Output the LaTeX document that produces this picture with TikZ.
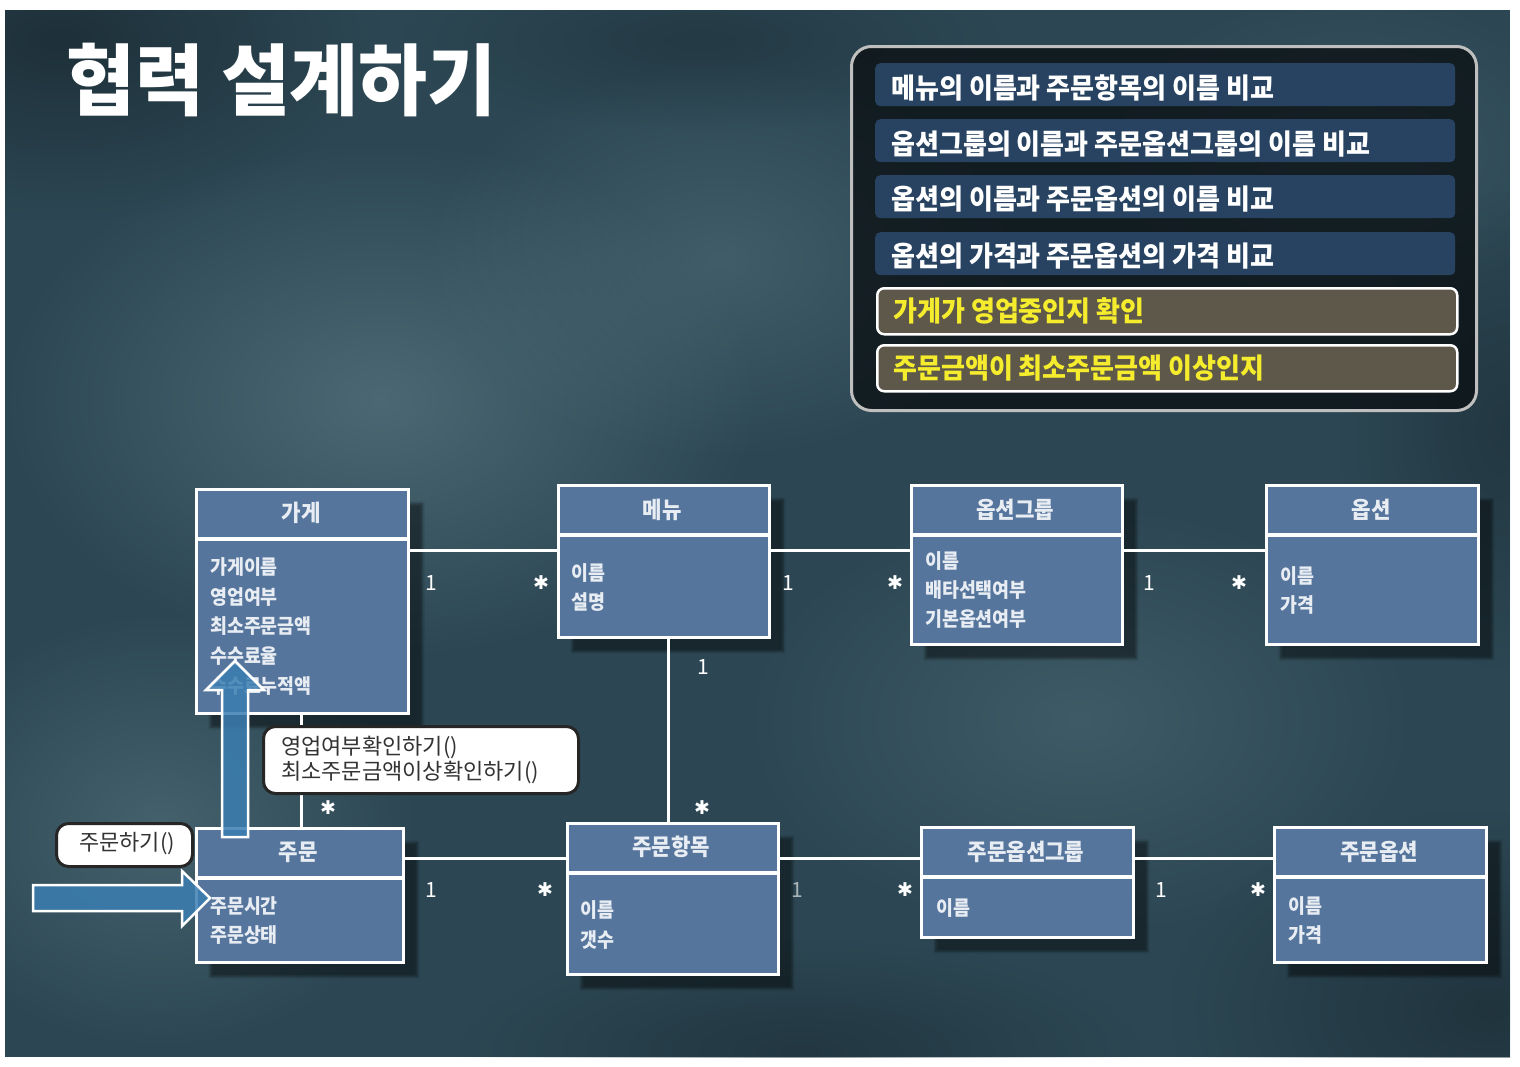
\documentclass[tikz,border=0pt]{standalone}
\usepackage{fontspec}
\setmainfont{Noto Sans CJK KR}
\newfontfamily\titlefont{Noto Sans CJK KR}[FakeStretch=0.96]
\newfontfamily\panelfont{Noto Sans CJK KR}[FakeStretch=0.93]
\newfontfamily\boxfont{Noto Sans CJK KR}[FakeStretch=0.92]
\newfontfamily\symfont{DejaVu Sans}
\usetikzlibrary{shadows.blur, fadings}
\definecolor{bgc}{HTML}{2C4753}
\definecolor{bgdark}{HTML}{18272F}
\definecolor{bglight}{HTML}{55737E}
\definecolor{boxblue}{HTML}{56759C}
\definecolor{rowblue}{HTML}{2A4868}
\definecolor{rowolive}{HTML}{5D5849}
\definecolor{yel}{HTML}{F4EC2C}
\definecolor{arrowblue}{HTML}{3B7EB2}
\definecolor{boxtext}{HTML}{E8EDF3}
\definecolor{calltext}{HTML}{333333}
\tikzfading[name=softfade, inner color=transparent!0, outer color=transparent!100]
\tikzset{
  cls/.style={rectangle, draw=white, line width=3pt, fill=boxblue, inner sep=0pt,
    blur shadow={shadow xshift=14pt, shadow yshift=-14pt, shadow opacity=45, shadow blur steps=6}},
  sepline/.style={draw=white, line width=3.5pt},
  hdr/.style={text=boxtext, font=\boxfont\bfseries\fontsize{23}{26}\selectfont, inner sep=0pt},
  attr/.style={text=boxtext, font=\boxfont\bfseries\fontsize{20}{22}\selectfont, inner sep=0pt, anchor=west},
  conn/.style={draw=white, line width=3pt},
  mult/.style={text=white, font=\fontsize{21}{24}\selectfont, inner sep=0pt},
  star/.style={text=white, font=\symfont\fontsize{19}{22}\selectfont, inner sep=0pt},
  rowb/.style={rectangle, fill=rowblue, fill opacity=0.9, rounded corners=5pt, inner sep=0pt, anchor=north west, minimum width=580pt, minimum height=43pt},
  rowo/.style={rectangle, fill=rowolive, draw=white, line width=2.5pt, rounded corners=7pt, inner sep=0pt, anchor=north west, minimum width=580pt, minimum height=46pt},
  rowtxt/.style={text=white, font=\panelfont\bfseries\fontsize{28}{30}\selectfont, inner sep=0pt, anchor=west},
  rowytxt/.style={rowtxt, text=yel},
  callout/.style={rectangle, draw=black!85, line width=3pt, fill=white, rounded corners=12pt, inner sep=0pt, anchor=north west},
  calltxt/.style={text=calltext, font=\fontsize{22}{25}\selectfont, inner sep=0pt, anchor=west},
  blockarrow/.style={fill=arrowblue, fill opacity=0.85, draw=white, line width=2.5pt, line join=miter},
  blob/.style={path fading=softfade}
}
\begin{document}
\begin{tikzpicture}[x=1pt, y=-1pt]
\useasboundingbox (0,0) rectangle (1520,1066);
% background
\fill[white] (0,0) rectangle (1520,1066);
\begin{scope}
\clip (5,10) rectangle (1510,1057);
\fill[bgc] (5,10) rectangle (1510,1057);
\fill[bglight, blob, opacity=0.75] (380,400) ellipse[x radius=380pt, y radius=260pt];
\fill[bglight, blob, opacity=0.5] (720,260) ellipse[x radius=300pt, y radius=200pt];
\fill[bglight, blob, opacity=0.6] (160,830) ellipse[x radius=260pt, y radius=220pt];
\fill[bglight, blob, opacity=0.45] (1080,720) ellipse[x radius=340pt, y radius=220pt];
\fill[bglight, blob, opacity=0.35] (1350,150) ellipse[x radius=250pt, y radius=160pt];
\fill[bgdark, blob, opacity=0.7] (60,40) ellipse[x radius=320pt, y radius=180pt];
\fill[bgdark, blob, opacity=0.6] (1490,1010) ellipse[x radius=320pt, y radius=200pt];
\fill[bgdark, blob, opacity=0.5] (800,1050) ellipse[x radius=340pt, y radius=110pt];
\fill[bgdark, blob, opacity=0.5] (1510,430) ellipse[x radius=170pt, y radius=240pt];
\fill[bgdark, blob, opacity=0.4] (700,40) ellipse[x radius=300pt, y radius=90pt];
\end{scope}
% title
\node (title) [anchor=west, text=white, font=\titlefont\bfseries\fontsize{78}{80}\selectfont, inner sep=0pt] at (66,80) {협력 설계하기};
% panel
\node (panel) [rectangle, anchor=north west, minimum width=625pt, minimum height=364pt, fill=black!80!bgc, fill opacity=0.75, draw=white!75!black, line width=3pt, rounded corners=20pt] at (850,45) {};
\node (r1) [rowb] at (875,63) {};
\node (r2) [rowb] at (875,119) {};
\node (r3) [rowb] at (875,175) {};
\node (r4) [rowb] at (875,232) {};
\node (r5) [rowo] at (876,287) {};
\node (r6) [rowo] at (876,344) {};
\node (t1) [rowtxt] at (891,88) {메뉴의 이름과 주문항목의 이름 비교};
\node (t2) [rowtxt] at (891,144) {옵션그룹의 이름과 주문옵션그룹의 이름 비교};
\node (t3) [rowtxt] at (891,199) {옵션의 이름과 주문옵션의 이름 비교};
\node (t4) [rowtxt] at (891,256) {옵션의 가격과 주문옵션의 가격 비교};
\node (t5) [rowytxt] at (893,311) {가게가 영업중인지 확인};
\node (t6) [rowytxt] at (893,368) {주문금액이 최소주문금액 이상인지};
% classes
\node (gage) [cls, anchor=north west, minimum width=212pt, minimum height=224pt] at (195,488) {};
\node (menu) [cls, anchor=north west, minimum width=211pt, minimum height=152pt] at (557,484) {};
\node (ogrp) [cls, anchor=north west, minimum width=211pt, minimum height=159pt] at (910,484) {};
\node (opt)  [cls, anchor=north west, minimum width=212pt, minimum height=159pt] at (1265,484) {};
\node (order)[cls, anchor=north west, minimum width=207pt, minimum height=134pt] at (195,827) {};
\node (oitem)[cls, anchor=north west, minimum width=211pt, minimum height=151pt] at (566,822) {};
\node (oogrp)[cls, anchor=north west, minimum width=212pt, minimum height=110pt] at (920,826) {};
\node (oopt) [cls, anchor=north west, minimum width=212pt, minimum height=135pt] at (1273,826) {};
% header separators
\draw[sepline] ([yshift=-51pt]gage.north west) -- ([yshift=-51pt]gage.north east);
\draw[sepline] ([yshift=-51pt]menu.north west) -- ([yshift=-51pt]menu.north east);
\draw[sepline] ([yshift=-51pt]ogrp.north west) -- ([yshift=-51pt]ogrp.north east);
\draw[sepline] ([yshift=-51pt]opt.north west) -- ([yshift=-51pt]opt.north east);
\draw[sepline] ([yshift=-51pt]order.north west) -- ([yshift=-51pt]order.north east);
\draw[sepline] ([yshift=-51pt]oitem.north west) -- ([yshift=-51pt]oitem.north east);
\draw[sepline] ([yshift=-51pt]oogrp.north west) -- ([yshift=-51pt]oogrp.north east);
\draw[sepline] ([yshift=-51pt]oopt.north west) -- ([yshift=-51pt]oopt.north east);
% headers
\node (h1) [hdr] at (301,513) {가게};
\node (h2) [hdr] at (662,510) {메뉴};
\node (h3) [hdr] at (1015,510) {옵션그룹};
\node (h4) [hdr] at (1371,510) {옵션};
\node (h5) [hdr] at (298,852) {주문};
\node (h6) [hdr] at (671,847) {주문항목};
\node (h7) [hdr] at (1026,852) {주문옵션그룹};
\node (h8) [hdr] at (1379,852) {주문옵션};
% attributes
\node (a11) [attr] at (210,567) {가게이름};
\node (a12) [attr] at (210,597) {영업여부};
\node (a13) [attr] at (210,626) {최소주문금액};
\node (a14) [attr] at (210,656) {수수료율};
\node (a15) [attr] at (210,686) {수수료누적액};
\node (a21) [attr] at (571,573) {이름};
\node (a22) [attr] at (571,602) {설명};
\node (a31) [attr] at (925,561) {이름};
\node (a32) [attr] at (925,590) {배타선택여부};
\node (a33) [attr] at (925,619) {기본옵션여부};
\node (a41) [attr] at (1280,576) {이름};
\node (a42) [attr] at (1280,605) {가격};
\node (a51) [attr] at (210,906) {주문시간};
\node (a52) [attr] at (210,935) {주문상태};
\node (a61) [attr] at (580,910) {이름};
\node (a62) [attr] at (580,940) {갯수};
\node (a71) [attr] at (936,908) {이름};
\node (a81) [attr] at (1288,906) {이름};
\node (a82) [attr] at (1288,935) {가격};
% connectors
\draw[conn] ([yshift=-62pt]gage.north east) -- ([yshift=-66pt]menu.north west);
\draw[conn] ([yshift=-66pt]menu.north east) -- ([yshift=-66pt]ogrp.north west);
\draw[conn] ([yshift=-66pt]ogrp.north east) -- ([yshift=-66pt]opt.north west);
\draw[conn] ([xshift=4.5pt]menu.south) -- ([xshift=-4.5pt]oitem.north);
\draw[conn] ([xshift=-1pt]gage.south) -- ([xshift=1.5pt]order.north);
\draw[conn] ([yshift=-31pt]order.north east) -- ([yshift=-36pt]oitem.north west);
\draw[conn] ([yshift=-36pt]oitem.north east) -- ([yshift=-32pt]oogrp.north west);
\draw[conn] ([yshift=-32pt]oogrp.north east) -- ([yshift=-32pt]oopt.north west);
% multiplicities
\node (m1) [mult] at (431,583) {1};
\node (m2) [star] at (541,583) {✱};
\node (m3) [mult] at (788,583) {1};
\node (m4) [star] at (895,583) {✱};
\node (m5) [mult] at (1149,583) {1};
\node (m6) [star] at (1239,583) {✱};
\node (m7) [mult] at (703,667) {1};
\node (m8) [star] at (702,808) {✱};
\node (m9) [star] at (328,808) {✱};
\node (m10) [mult] at (431,890) {1};
\node (m11) [star] at (545,890) {✱};
\node (m12) [mult, text opacity=0.6] at (797,890) {1};
\node (m13) [star] at (905,890) {✱};
\node (m14) [mult] at (1161,890) {1};
\node (m15) [star] at (1258,890) {✱};
% callouts
\node (c1) [callout, minimum width=315pt, minimum height=67pt] at (262,725) {};
\node (c1a) [calltxt] at (281,747) {영업여부확인하기()};
\node (c1b) [calltxt] at (281,772) {최소주문금액이상확인하기()};
\node (c2) [callout, minimum width=136pt, minimum height=43pt] at (55,822) {};
\node (c2a) [calltxt, anchor=center] at (127,844) {주문하기()};
% block arrows
\draw[blockarrow] (222,837) -- (222,690) -- (206,690) -- (235,661) -- (264,690) -- (248,690) -- (248,837) -- cycle;
\draw[blockarrow] (33,885) -- (182,885) -- (182,871) -- (210,898) -- (182,926) -- (182,911) -- (33,911) -- cycle;
\end{tikzpicture}
\end{document}
